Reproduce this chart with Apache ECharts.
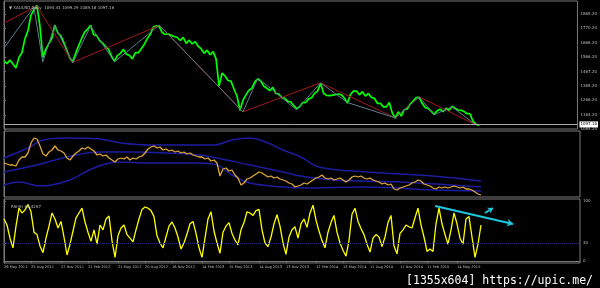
<!DOCTYPE html>
<html><head><meta charset="utf-8">
<script src="https://cdn.jsdelivr.net/npm/echarts@6/dist/echarts.min.js"></script>
<style>html,body{margin:0;padding:0;background:#000}#c{width:600px;height:288px}</style>
</head><body><div id="c"></div>
<script>
// ---- data (bar index = one step along time axis) ----
const priceClose = [1540,1522,1548,1520,1492,1565,1598,1695,1752,1858,
 1898,1930,1790,1565,1622,1662,1698,1792,1738,1716,
 1672,1618,1562,1536,1594,1648,1698,1742,1764,1790,
 1724,1720,1684,1666,1642,1622,1574,1540,1580,1594,
 1622,1588,1580,1555,1600,1598,1628,1658,1698,1728,
 1778,1786,1780,1738,1726,1730,1720,1712,1705,1684,
 1706,1664,1686,1660,1676,1644,1626,1594,1616,1584,
 1606,1555,1365,1455,1436,1404,1400,1345,1296,1195,
 1265,1304,1336,1350,1396,1415,1400,1364,1350,1334,
 1356,1314,1310,1284,1280,1258,1255,1228,1208,1220,
 1250,1250,1276,1284,1316,1330,1385,1315,1300,1298,
 1302,1305,1310,1304,1280,1246,1306,1330,1330,1304,
 1326,1295,1314,1286,1280,1245,1245,1220,1220,1250,
 1178,1142,1185,1156,1200,1205,1240,1260,1285,1286,
 1245,1215,1210,1190,1168,1192,1204,1186,1210,1196,
 1224,1210,1198,1196,1188,1172,1172,1122,1098,1090];
const bidPrice = 1097.16;
const priceTicks = [1065.2,1164.2,1266.2,1365.2,1467.2,1566.2,1668.2,1770.2,1869.2];

const zzRedIdx = [0,11,23,52,80,106,131,139,158];
const zzRedVal = [1806,1925,1530,1790,1185,1388,1143,1290,1094];
const zzGrayIdx = [0,10,13,17,23,29,37,52,80,85,98,106,115,131,139,144,150,158];
const zzGrayVal = [1632,1918,1534,1790,1527,1785,1534,1792,1185,1422,1199,1388,1250,1143,1290,1165,1220,1094];

const oscLine = [34,33,32,32,31,37,40,40,44,54,
 59,58,51,43,41,45,47,51,47,46,
 44,39,37,41,44,46,49,48,50,48,
 46,42,43,41,42,39,37,35,38,39,
 38,40,37,39,38,40,41,44,48,50,
 51,49,50,47,48,46,47,45,46,44,
 45,43,44,42,41,40,40,38,39,36,
 37,34,21,28,29,26,27,22,19,12,
 14,18,19,21,23,25,24,22,20,21,
 19,20,18,17,16,14,13,10,11,12,
 14,13,15,17,19,20,22,19,18,19,
 17,18,19,17,15,17,20,21,20,21,
 19,18,19,17,16,15,13,14,12,13,
 8,7,9,10,11,12,14,15,17,16,
 13,12,11,9,8,10,9,10,9,10,
 11,10,9,10,8,8,7,5,3,2];
const bandUpper = [[0,39],[8,49],[13,57],[21,59],[32,58],[39,54],[49,52],[70,52],[76,57],[82,59],[88,54],[93,47],[99,40],[105,30],[121,25],[143,21],[159,16]];
const bandMiddle = [[0,25],[11,32],[21,40],[32,45],[43,45],[54,44],[65,42],[71,39],[82,32],[93,25],[99,21],[110,17],[132,15],[159,10]];
const bandLower = [[0,12],[5,15],[12,11],[21,16],[30,29],[38,35],[49,34],[65,34],[71,32],[76,22],[82,14],[93,10],[99,9],[121,10],[143,7],[159,6]];

const rsiVals = [70,60,38,22,58,88,80,85,94,82,
 48,44,25,14,38,58,80,70,55,66,
 40,10,28,50,72,80,88,65,48,33,
 52,28,60,52,70,75,34,6,42,55,
 60,44,38,32,52,70,86,90,88,84,
 74,42,30,22,40,58,65,55,40,20,
 30,45,62,66,46,22,6,38,70,82,
 50,30,13,48,58,64,46,35,27,52,
 64,82,80,76,84,86,52,30,24,40,
 62,77,58,30,11,40,52,57,38,62,
 70,56,80,93,68,50,34,22,48,64,
 76,48,30,18,8,34,78,88,66,54,
 44,28,15,38,44,40,24,40,64,76,
 25,12,46,52,60,57,55,72,88,60,
 40,16,20,16,62,88,62,44,28,52,
 80,62,38,28,70,74,40,6,28,60];
const rsiLevel = 30;
const rsiTicks = [0,30,100];
const trendStart = [143.7,91.7], trendEnd = [169.7,61.7];
const smallArrowStart = [160.3,80], smallArrowEnd = [163,88.3];

const dateIdx = [0,9,19,28,38,47,56,66,75,85,94,104,113,122,132,141,151];
const dateLabels = ["26 May 2011","25 Aug 2011","22 Nov 2011","21 Feb 2012","21 May 2012","20 Aug 2012","16 Nov 2012","14 Feb 2013","15 May 2013","14 Aug 2013","13 Nov 2013","12 Feb 2014","13 May 2014","11 Aug 2014","11 Nov 2014","11 Feb 2015","14 May 2015"];

// ---- chart ----
const FONT = 'DejaVu Sans';
const frame = '#7a7a7a';
const lbl = '#bdbdbd';
const chart = echarts.init(document.getElementById('c'), null, {renderer:'canvas'});
const pairs = (a) => a.map((v,i)=>[i,v]);
const zip = (x,y) => x.map((v,i)=>[v,y[i]]);
const hidX = (gi)=>({type:'value', gridIndex:gi, min:0, max:192, show:false});
const option = {
  backgroundColor:'#000',
  animation:false,
  title:[
    {text:'\u25BC XAUUSD,Daily  1094.41 1099.29 1089.18 1097.16', left:4, top:1,
     textStyle:{color:lbl, fontSize:4, fontWeight:'normal', fontFamily:FONT}},
    {text:'RSI(9) 61.4267', left:6, top:200,
     textStyle:{color:lbl, fontSize:4, fontWeight:'normal', fontFamily:FONT}},
    {text:'[1355x604] https://upic.me/', right:2, top:270,
     textStyle:{color:'#ffffff', fontSize:11.5, fontWeight:'normal', fontFamily:'DejaVu Sans Mono'}}
  ],
  grid:[
    {left:4, right:20, top:1, height:128, show:true, borderColor:frame, borderWidth:1},
    {left:4, right:20, top:131, height:66, show:true, borderColor:frame, borderWidth:1},
    {left:4, right:20, top:199, height:64, show:true, borderColor:frame, borderWidth:1}
  ],
  xAxis:[hidX(0), hidX(1),
    {type:'value', gridIndex:2, min:0, max:192, splitLine:{show:false},
     axisLine:{show:true, lineStyle:{color:frame}},
     axisTick:{show:true, length:2, lineStyle:{color:frame}, customValues:dateIdx},
     axisLabel:{show:true, color:lbl, fontSize:3.6, fontFamily:FONT, margin:2, align:'left',
       customValues:dateIdx, formatter:(v)=>{const k=dateIdx.indexOf(Math.round(v));return k>=0?dateLabels[k]:'';}}}
  ],
  yAxis:[
    {type:'value', gridIndex:0, position:'right', min:1065.2, max:1960, splitLine:{show:false},
     axisLine:{show:true, lineStyle:{color:frame}},
     axisTick:{show:true, length:2, lineStyle:{color:frame}, customValues:priceTicks},
     axisLabel:{color:lbl, fontSize:4, fontFamily:FONT, margin:3, customValues:priceTicks, formatter:(v)=>v.toFixed(2)}},
    {type:'value', gridIndex:1, position:'right', min:0, max:66, splitLine:{show:false},
     axisLine:{show:true, lineStyle:{color:frame}}, axisTick:{show:false}, axisLabel:{show:false}},
    {type:'value', gridIndex:2, position:'right', min:-3.3, max:103.3, splitLine:{show:false},
     axisLine:{show:true, lineStyle:{color:frame}},
     axisTick:{show:true, length:2, lineStyle:{color:frame}, customValues:rsiTicks},
     axisLabel:{color:lbl, fontSize:4, fontFamily:FONT, margin:3, customValues:rsiTicks}}
  ],
  series:[
    {type:'line', xAxisIndex:0, yAxisIndex:0, data:pairs(priceClose), showSymbol:false,
     lineStyle:{color:'#00ff00', width:1.7}, z:2,
     markLine:{silent:true, symbol:['none','none'],
       lineStyle:{color:'#a8a8a8', width:1, type:'solid'},
       label:{show:true, position:'end', formatter:bidPrice.toFixed(2), color:'#000', backgroundColor:'#ffffff',
              fontSize:4, fontFamily:FONT, padding:[1,1], distance:2},
       data:[{yAxis:bidPrice}]}},
    {type:'line', xAxisIndex:0, yAxisIndex:0, data:zip(zzRedIdx,zzRedVal), showSymbol:false,
     lineStyle:{color:'#a31a1a', width:1}, z:3},
    {type:'line', xAxisIndex:0, yAxisIndex:0, data:zip(zzGrayIdx,zzGrayVal), showSymbol:false,
     lineStyle:{color:'#5d7f8c', width:1}, z:3},
    {type:'line', xAxisIndex:1, yAxisIndex:1, data:bandUpper, showSymbol:false, smooth:0.4,
     lineStyle:{color:'#1c1ca0', width:1.5}},
    {type:'line', xAxisIndex:1, yAxisIndex:1, data:bandMiddle, showSymbol:false, smooth:0.4,
     lineStyle:{color:'#1c1ca0', width:1.5}},
    {type:'line', xAxisIndex:1, yAxisIndex:1, data:bandLower, showSymbol:false, smooth:0.4,
     lineStyle:{color:'#1c1ca0', width:1.5}},
    {type:'line', xAxisIndex:1, yAxisIndex:1, data:pairs(oscLine), showSymbol:false,
     lineStyle:{color:'#e0a63a', width:1.3}, z:3},
    {type:'line', xAxisIndex:2, yAxisIndex:2, data:pairs(rsiVals), showSymbol:false,
     lineStyle:{color:'#ffff00', width:1.3}, z:3,
     markLine:{silent:true, symbol:['none','none'], label:{show:false},
       data:[
         {yAxis:rsiLevel, lineStyle:{color:'#23236e', width:1, type:'dotted'}},
         [{coord:trendStart, symbol:'none', lineStyle:{color:'#1ec8dc', width:2, type:'solid'}},
          {coord:trendEnd, symbol:'arrow', symbolSize:6}],
         [{coord:smallArrowStart, symbol:'none', lineStyle:{color:'#1ec8dc', width:2, type:'solid'}},
          {coord:smallArrowEnd, symbol:'arrow', symbolSize:5}]
       ]}}
  ]
};
chart.setOption(option);
</script></body></html>
